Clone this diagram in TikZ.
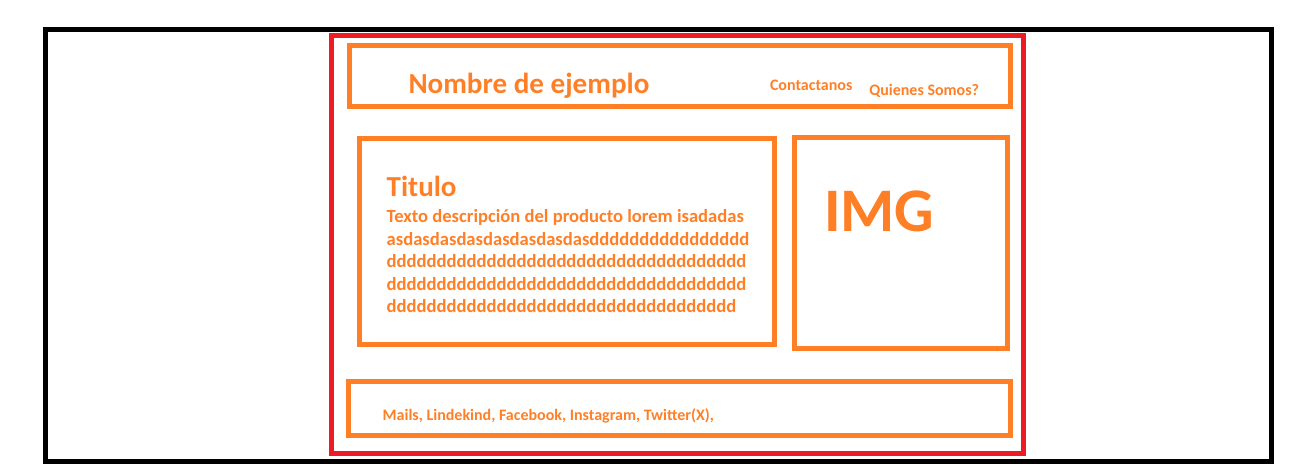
\documentclass[tikz,border=0pt]{standalone}
\usepackage{fontspec}
\setmainfont{Carlito}
\usepackage{tikz}
\definecolor{paintorange}{HTML}{FF7F27}
\definecolor{paintred}{HTML}{ED1C24}

\begin{document}
\begin{tikzpicture}[
    x=1pt, y=-1pt,
    every node/.style={inner sep=0pt, outer sep=0pt},
    screen/.style={draw=black, line width=4.7pt},
    page/.style={draw=paintred, line width=5pt},
    box/.style={draw=paintorange, line width=5pt},
    txt/.style={anchor=base west, text=paintorange, font=\bfseries},
]
    \useasboundingbox (0,0) rectangle (1296,466);

    % Outer frames
    \node[screen, minimum width=1226pt, minimum height=432pt] (scr)  at (658.3, 245.3) {};
    \node[page,   minimum width=692pt,  minimum height=418pt] (pg)   at (677.4, 244.6) {};

    % Header
    \node[box, minimum width=661pt, minimum height=60.5pt] (head) at (679.8, 76.1) {};
    \node[txt, font=\bfseries\fontsize{29.1}{34}\selectfont] (name) at (408.5, 93) {Nombre de ejemplo};
    \node[txt, font=\bfseries\fontsize{16}{19}\selectfont] (cont) at (770, 90) {Contactanos};
    \node[txt, font=\bfseries\fontsize{16}{19}\selectfont] (quien) at (869.3, 95) {Quienes Somos?};

    % Product description
    \node[box, minimum width=414.6pt, minimum height=206pt] (desc) at (567, 241.3) {};
    \node[txt, font=\bfseries\fontsize{29}{34}\selectfont] (tit) at (386.7, 196.7) {Titulo};
    \foreach \line [count=\i] in {
        Texto descripción del producto lorem isadadas,
        asdasdasdasdasdasdasdasdddddddddddddddd,
        dddddddddddddddddddddddddddddddddddd,
        dddddddddddddddddddddddddddddddddddd,
        ddddddddddddddddddddddddddddddddddd}
        \node[txt, font=\bfseries\fontsize{18.6}{22}\selectfont] (l\i) at (386.7, 200.2+22.5*\i) {\line};

    % Image
    \node[box, minimum width=212.8pt, minimum height=210.5pt] (img) at (901.1, 242.8) {};
    \node[txt, font=\bfseries\fontsize{62}{70}\selectfont] (imgt) at (824, 231) {IMG};

    % Footer
    \node[box, minimum width=661.5pt, minimum height=53.4pt] (foot) at (679.5, 408.5) {};
    \node[txt, font=\bfseries\fontsize{16}{19}\selectfont] (links) at (382.7, 420.7) {Mails, Lindekind, Facebook, Instagram, Twitter(X),};

\end{tikzpicture}
\end{document}
